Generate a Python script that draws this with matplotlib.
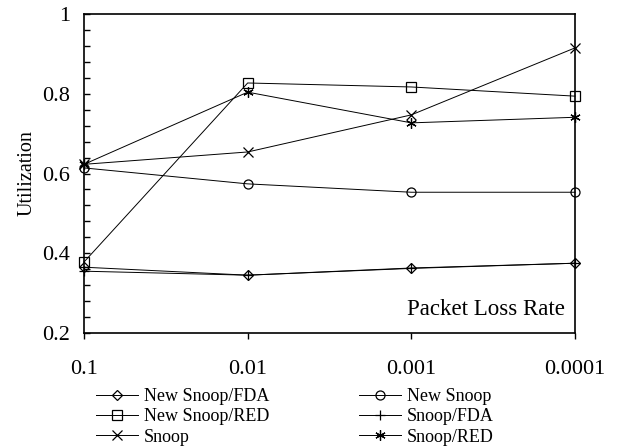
import matplotlib
matplotlib.use("Agg")
import matplotlib.pyplot as plt

# Packet loss rates on the x axis (categorical, equally spaced)
loss_rates = ["0.1", "0.01", "0.001", "0.0001"]

# Utilization per scheme
new_snoop_fda = [0.365, 0.345, 0.363, 0.375]
new_snoop = [0.614, 0.574, 0.553, 0.553]
new_snoop_red = [0.378, 0.827, 0.817, 0.794]
snoop_fda = [0.355, 0.345, 0.362, 0.375]
snoop = [0.623, 0.654, 0.747, 0.915]
snoop_red = [0.623, 0.804, 0.727, 0.741]

y_ticks = [0.2, 0.4, 0.6, 0.8, 1.0]
y_tick_labels = ["0.2", "0.4", "0.6", "0.8", "1"]

plt.rcParams["font.family"] = ["Liberation Serif", "DejaVu Serif"]

W, H = 624, 446
fig = plt.figure(figsize=(W / 100, H / 100), dpi=100)
ax = fig.add_axes([84 / W, 1 - 333 / H, (575 - 84) / W, (333 - 14) / H])

x = list(range(len(loss_rates)))
lw = 0.7
ms = 6.5
series = [
    ("New Snoop/FDA", new_snoop_fda, dict(marker="D", ms=5.2)),
    ("New Snoop", new_snoop, dict(marker="o", ms=ms)),
    ("New Snoop/RED", new_snoop_red, dict(marker="s", ms=ms)),
    ("Snoop/FDA", snoop_fda, dict(marker="+", ms=7.5)),
    ("Snoop", snoop, dict(marker="x", ms=ms)),
    ("Snoop/RED", snoop_red, dict(marker=(6, 2, 0), ms=7.5)),
]

handles = {}
for name, vals, style in series:
    (ln,) = ax.plot(x, vals, color="black", lw=lw, mfc="none", mec="black",
                    mew=0.9, clip_on=False, zorder=3, label=name, **style)
    handles[name] = ln

ax.set_xlim(0, 3)
ax.set_ylim(0.2, 1.0)
ax.set_xticks(x)
ax.set_xticklabels(loss_rates, fontsize=16)
ax.set_yticks(y_ticks)
ax.set_yticklabels(y_tick_labels, fontsize=16)
ax.set_yticks([0.2 + 0.04 * i for i in range(21)], minor=True)

ax.tick_params(axis="x", direction="out", length=4.5, width=1.0, pad=15)
ax.tick_params(axis="y", which="both", direction="in", length=4.5, width=1.0, pad=10)
ax.tick_params(axis="x", which="minor", bottom=False)

for sp in ax.spines.values():
    sp.set_linewidth(1.2)

ax.set_ylabel("Utilization", fontsize=14.5, va="center")
ax.yaxis.set_label_coords((27 - 84) / 491, 0.5)
ax.text(0.98, 0.056, "Packet Loss Rate", transform=ax.transAxes,
        ha="right", va="baseline", fontsize=16.5)

# Two-column legend below the axes
leg_kw = dict(frameon=False, fontsize=13, handlelength=2.33, handletextpad=0.33,
              labelspacing=0.18, borderpad=0, borderaxespad=0, loc="upper left")
col1 = ["New Snoop/FDA", "New Snoop/RED", "Snoop"]
col2 = ["New Snoop", "Snoop/FDA", "Snoop/RED"]
leg1 = fig.legend([handles[n] for n in col1], col1,
                  bbox_to_anchor=(96 / W, 1 - 388 / H), **leg_kw)
leg2 = fig.legend([handles[n] for n in col2], col2,
                  bbox_to_anchor=(359 / W, 1 - 388 / H), **leg_kw)

fig.savefig("out.png", dpi=100)
